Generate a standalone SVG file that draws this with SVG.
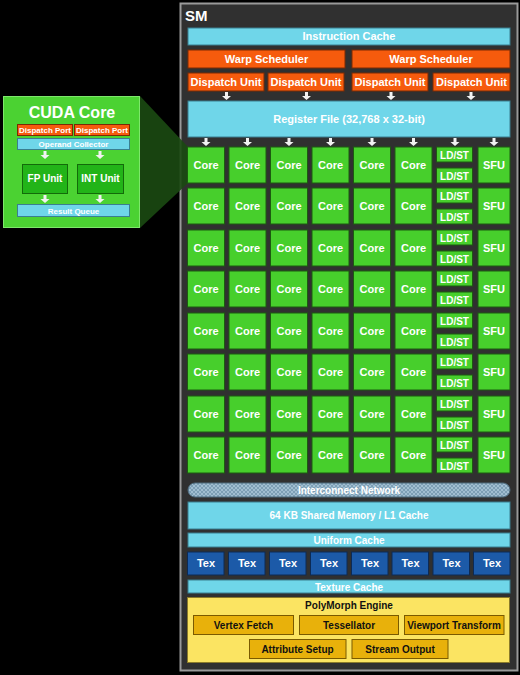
<svg xmlns="http://www.w3.org/2000/svg" width="520" height="675" viewBox="0 0 520 675">
<style>
text{font-family:"Liberation Sans",Arial,sans-serif;font-weight:bold;fill:#fff;text-anchor:middle}
.cy{fill:#6fd6e9;stroke:#3a7f90;stroke-width:1}
.or{fill:#f65b0d;stroke:#7a2a05;stroke-width:1}
.gr{fill:#47cf2c;stroke:#1d5a10;stroke-width:1}
.tx{fill:#1c5aa8;stroke:#0c2a55;stroke-width:1}
.yl{fill:#e8b10b;stroke:#7a5a00;stroke-width:1}
.t11{font-size:11px}
.t10{font-size:10px}
.t9{font-size:8px}
.dk{fill:#111;font-size:10px}
</style>
<defs>
<pattern id="hatch" width="4" height="4" patternUnits="userSpaceOnUse">
<rect width="4" height="4" fill="#7d9fb5"/>
<path d="M0,0 L4,4 M4,0 L0,4" stroke="#a9c6d8" stroke-width="0.8"/>
</pattern>
<path id="arr" d="M-1.5,0 H1.5 V4 H4.5 L0,8 L-4.5,4 H-1.5 Z" fill="#f2f2f2"/>
</defs>
<rect width="520" height="675" fill="#000"/>

<g id="sm">
<rect x="180.5" y="3.5" width="337" height="667" fill="#303030" stroke="#9a9a9a" stroke-width="2"/>
<text x="185" y="21" style="font-size:15px;text-anchor:start">SM</text>
</g>

<g id="zoom-wedge">
<polygon points="140,96 188,147 188,183 140,228" fill="#1b4a12" opacity="0.9"/>
</g>

<g id="cuda-core">
<rect x="3.5" y="96.5" width="136" height="131" fill="#4bd232" stroke="#7de86a" stroke-width="1"/>
<text x="72" y="118" style="font-size:16px">CUDA Core</text>
<rect x="17.5" y="124.5" width="55" height="11" class="or"/>
<text x="45" y="133" class="t9">Dispatch Port</text>
<rect x="74.5" y="124.5" width="55" height="11" class="or"/>
<text x="102" y="133" class="t9">Dispatch Port</text>
<rect x="17.5" y="138.5" width="112" height="11" class="cy"/>
<text x="73.5" y="147" class="t9">Operand Collector</text>
<use href="#arr" x="45" y="151"/>
<use href="#arr" x="100" y="151"/>
<rect x="22.5" y="164.5" width="45" height="29" fill="#22b418" stroke="#136a0a"/>
<text x="45" y="182" class="t10">FP Unit</text>
<rect x="77.5" y="164.5" width="46" height="29" fill="#22b418" stroke="#136a0a"/>
<text x="100.5" y="182" class="t10">INT Unit</text>
<use href="#arr" x="45" y="195"/>
<use href="#arr" x="100" y="195"/>
<rect x="17.5" y="204.5" width="112" height="12" class="cy"/>
<text x="73.5" y="213.5" class="t9">Result Queue</text>
</g>

<g id="instruction-cache">
<rect x="188" y="28" width="322" height="17" class="cy"/>
<text x="349" y="40" class="t11">Instruction Cache</text>
</g>
<g id="warp-scheduler-1">
<rect x="188" y="50" width="157" height="18" class="or"/>
<text x="266.5" y="63" class="t11">Warp Scheduler</text>
</g>
<g id="warp-scheduler-2">
<rect x="352" y="50" width="158" height="18" class="or"/>
<text x="431" y="63" class="t11">Warp Scheduler</text>
</g>
<g id="dispatch-1"><rect x="188" y="73" width="76" height="18" class="or"/><text x="226" y="86" class="t11">Dispatch Unit</text></g>
<g id="dispatch-2"><rect x="268" y="73" width="76" height="18" class="or"/><text x="306" y="86" class="t11">Dispatch Unit</text></g>
<g id="dispatch-3"><rect x="352" y="73" width="76" height="18" class="or"/><text x="390" y="86" class="t11">Dispatch Unit</text></g>
<g id="dispatch-4"><rect x="433" y="73" width="77" height="18" class="or"/><text x="471.5" y="86" class="t11">Dispatch Unit</text></g>

<g id="register-file">
<rect x="188" y="101" width="322" height="36" class="cy"/>
<text x="349" y="123" class="t11">Register File (32,768 x 32-bit)</text>
</g>

<g id="connectors">
<use href="#arr" x="226.5" y="92"/>
<use href="#arr" x="306.5" y="92"/>
<use href="#arr" x="391" y="92"/>
<use href="#arr" x="471" y="92"/>
<use href="#arr" x="206" y="138"/>
<use href="#arr" x="247.5" y="138"/>
<use href="#arr" x="289" y="138"/>
<use href="#arr" x="330.5" y="138"/>
<use href="#arr" x="372" y="138"/>
<use href="#arr" x="413.5" y="138"/>
<use href="#arr" x="455" y="138"/>
<use href="#arr" x="494" y="138"/>
</g>

<g id="cores">
<!-- row 1 y=147 -->
<g id="row1">
<rect x="187.5" y="147" width="37" height="36" class="gr"/><text x="206" y="169" class="t11">Core</text>
<rect x="229" y="147" width="37" height="36" class="gr"/><text x="247.5" y="169" class="t11">Core</text>
<rect x="270.5" y="147" width="37" height="36" class="gr"/><text x="289" y="169" class="t11">Core</text>
<rect x="312" y="147" width="37" height="36" class="gr"/><text x="330.5" y="169" class="t11">Core</text>
<rect x="353.5" y="147" width="37" height="36" class="gr"/><text x="372" y="169" class="t11">Core</text>
<rect x="395" y="147" width="37" height="36" class="gr"/><text x="413.5" y="169" class="t11">Core</text>
<rect x="436.5" y="147" width="36" height="15" class="gr"/><text x="454.5" y="158.5" class="t10">LD/ST</text>
<rect x="436.5" y="168" width="36" height="15" class="gr"/><text x="454.5" y="179.5" class="t10">LD/ST</text>
<rect x="478" y="147" width="32" height="36" class="gr"/><text x="494" y="169" class="t11">SFU</text>
</g>
<g id="row2">
<rect x="187.5" y="188" width="37" height="36" class="gr"/><text x="206" y="210" class="t11">Core</text>
<rect x="229" y="188" width="37" height="36" class="gr"/><text x="247.5" y="210" class="t11">Core</text>
<rect x="270.5" y="188" width="37" height="36" class="gr"/><text x="289" y="210" class="t11">Core</text>
<rect x="312" y="188" width="37" height="36" class="gr"/><text x="330.5" y="210" class="t11">Core</text>
<rect x="353.5" y="188" width="37" height="36" class="gr"/><text x="372" y="210" class="t11">Core</text>
<rect x="395" y="188" width="37" height="36" class="gr"/><text x="413.5" y="210" class="t11">Core</text>
<rect x="436.5" y="188" width="36" height="15" class="gr"/><text x="454.5" y="199.5" class="t10">LD/ST</text>
<rect x="436.5" y="209" width="36" height="15" class="gr"/><text x="454.5" y="220.5" class="t10">LD/ST</text>
<rect x="478" y="188" width="32" height="36" class="gr"/><text x="494" y="210" class="t11">SFU</text>
</g>
<g id="row3">
<rect x="187.5" y="230" width="37" height="36" class="gr"/><text x="206" y="252" class="t11">Core</text>
<rect x="229" y="230" width="37" height="36" class="gr"/><text x="247.5" y="252" class="t11">Core</text>
<rect x="270.5" y="230" width="37" height="36" class="gr"/><text x="289" y="252" class="t11">Core</text>
<rect x="312" y="230" width="37" height="36" class="gr"/><text x="330.5" y="252" class="t11">Core</text>
<rect x="353.5" y="230" width="37" height="36" class="gr"/><text x="372" y="252" class="t11">Core</text>
<rect x="395" y="230" width="37" height="36" class="gr"/><text x="413.5" y="252" class="t11">Core</text>
<rect x="436.5" y="230" width="36" height="15" class="gr"/><text x="454.5" y="241.5" class="t10">LD/ST</text>
<rect x="436.5" y="251" width="36" height="15" class="gr"/><text x="454.5" y="262.5" class="t10">LD/ST</text>
<rect x="478" y="230" width="32" height="36" class="gr"/><text x="494" y="252" class="t11">SFU</text>
</g>
<g id="row4">
<rect x="187.5" y="271" width="37" height="36" class="gr"/><text x="206" y="293" class="t11">Core</text>
<rect x="229" y="271" width="37" height="36" class="gr"/><text x="247.5" y="293" class="t11">Core</text>
<rect x="270.5" y="271" width="37" height="36" class="gr"/><text x="289" y="293" class="t11">Core</text>
<rect x="312" y="271" width="37" height="36" class="gr"/><text x="330.5" y="293" class="t11">Core</text>
<rect x="353.5" y="271" width="37" height="36" class="gr"/><text x="372" y="293" class="t11">Core</text>
<rect x="395" y="271" width="37" height="36" class="gr"/><text x="413.5" y="293" class="t11">Core</text>
<rect x="436.5" y="271" width="36" height="15" class="gr"/><text x="454.5" y="282.5" class="t10">LD/ST</text>
<rect x="436.5" y="292" width="36" height="15" class="gr"/><text x="454.5" y="303.5" class="t10">LD/ST</text>
<rect x="478" y="271" width="32" height="36" class="gr"/><text x="494" y="293" class="t11">SFU</text>
</g>
<g id="row5">
<rect x="187.5" y="313" width="37" height="36" class="gr"/><text x="206" y="335" class="t11">Core</text>
<rect x="229" y="313" width="37" height="36" class="gr"/><text x="247.5" y="335" class="t11">Core</text>
<rect x="270.5" y="313" width="37" height="36" class="gr"/><text x="289" y="335" class="t11">Core</text>
<rect x="312" y="313" width="37" height="36" class="gr"/><text x="330.5" y="335" class="t11">Core</text>
<rect x="353.5" y="313" width="37" height="36" class="gr"/><text x="372" y="335" class="t11">Core</text>
<rect x="395" y="313" width="37" height="36" class="gr"/><text x="413.5" y="335" class="t11">Core</text>
<rect x="436.5" y="313" width="36" height="15" class="gr"/><text x="454.5" y="324.5" class="t10">LD/ST</text>
<rect x="436.5" y="334" width="36" height="15" class="gr"/><text x="454.5" y="345.5" class="t10">LD/ST</text>
<rect x="478" y="313" width="32" height="36" class="gr"/><text x="494" y="335" class="t11">SFU</text>
</g>
<g id="row6">
<rect x="187.5" y="354" width="37" height="36" class="gr"/><text x="206" y="376" class="t11">Core</text>
<rect x="229" y="354" width="37" height="36" class="gr"/><text x="247.5" y="376" class="t11">Core</text>
<rect x="270.5" y="354" width="37" height="36" class="gr"/><text x="289" y="376" class="t11">Core</text>
<rect x="312" y="354" width="37" height="36" class="gr"/><text x="330.5" y="376" class="t11">Core</text>
<rect x="353.5" y="354" width="37" height="36" class="gr"/><text x="372" y="376" class="t11">Core</text>
<rect x="395" y="354" width="37" height="36" class="gr"/><text x="413.5" y="376" class="t11">Core</text>
<rect x="436.5" y="354" width="36" height="15" class="gr"/><text x="454.5" y="365.5" class="t10">LD/ST</text>
<rect x="436.5" y="375" width="36" height="15" class="gr"/><text x="454.5" y="386.5" class="t10">LD/ST</text>
<rect x="478" y="354" width="32" height="36" class="gr"/><text x="494" y="376" class="t11">SFU</text>
</g>
<g id="row7">
<rect x="187.5" y="396" width="37" height="36" class="gr"/><text x="206" y="418" class="t11">Core</text>
<rect x="229" y="396" width="37" height="36" class="gr"/><text x="247.5" y="418" class="t11">Core</text>
<rect x="270.5" y="396" width="37" height="36" class="gr"/><text x="289" y="418" class="t11">Core</text>
<rect x="312" y="396" width="37" height="36" class="gr"/><text x="330.5" y="418" class="t11">Core</text>
<rect x="353.5" y="396" width="37" height="36" class="gr"/><text x="372" y="418" class="t11">Core</text>
<rect x="395" y="396" width="37" height="36" class="gr"/><text x="413.5" y="418" class="t11">Core</text>
<rect x="436.5" y="396" width="36" height="15" class="gr"/><text x="454.5" y="407.5" class="t10">LD/ST</text>
<rect x="436.5" y="417" width="36" height="15" class="gr"/><text x="454.5" y="428.5" class="t10">LD/ST</text>
<rect x="478" y="396" width="32" height="36" class="gr"/><text x="494" y="418" class="t11">SFU</text>
</g>
<g id="row8">
<rect x="187.5" y="437" width="37" height="36" class="gr"/><text x="206" y="459" class="t11">Core</text>
<rect x="229" y="437" width="37" height="36" class="gr"/><text x="247.5" y="459" class="t11">Core</text>
<rect x="270.5" y="437" width="37" height="36" class="gr"/><text x="289" y="459" class="t11">Core</text>
<rect x="312" y="437" width="37" height="36" class="gr"/><text x="330.5" y="459" class="t11">Core</text>
<rect x="353.5" y="437" width="37" height="36" class="gr"/><text x="372" y="459" class="t11">Core</text>
<rect x="395" y="437" width="37" height="36" class="gr"/><text x="413.5" y="459" class="t11">Core</text>
<rect x="436.5" y="437" width="36" height="15" class="gr"/><text x="454.5" y="448.5" class="t10">LD/ST</text>
<rect x="436.5" y="458" width="36" height="15" class="gr"/><text x="454.5" y="469.5" class="t10">LD/ST</text>
<rect x="478" y="437" width="32" height="36" class="gr"/><text x="494" y="459" class="t11">SFU</text>
</g>
</g>

<g id="interconnect">
<rect x="188" y="483" width="322" height="14" rx="7" fill="url(#hatch)" stroke="#4d6a7d"/>
<text x="349" y="493.5" class="t10">Interconnect Network</text>
</g>
<g id="shared-memory">
<rect x="188" y="502" width="322" height="27" class="cy"/>
<text x="349" y="519" class="t10">64 KB Shared Memory / L1 Cache</text>
</g>
<g id="uniform-cache">
<rect x="188" y="533" width="322" height="14" class="cy"/>
<text x="349" y="544" class="t10">Uniform Cache</text>
</g>
<g id="tex-units">
<rect x="187.5" y="552" width="36.5" height="23" class="tx"/><text x="206" y="567" class="t11">Tex</text>
<rect x="228.5" y="552" width="36.5" height="23" class="tx"/><text x="247" y="567" class="t11">Tex</text>
<rect x="269.5" y="552" width="36.5" height="23" class="tx"/><text x="288" y="567" class="t11">Tex</text>
<rect x="310.5" y="552" width="36.5" height="23" class="tx"/><text x="329" y="567" class="t11">Tex</text>
<rect x="351.5" y="552" width="36.5" height="23" class="tx"/><text x="370" y="567" class="t11">Tex</text>
<rect x="392" y="552" width="36.5" height="23" class="tx"/><text x="410.5" y="567" class="t11">Tex</text>
<rect x="433" y="552" width="36.5" height="23" class="tx"/><text x="451.5" y="567" class="t11">Tex</text>
<rect x="473.5" y="552" width="36.5" height="23" class="tx"/><text x="492" y="567" class="t11">Tex</text>
</g>
<g id="texture-cache">
<rect x="188" y="580" width="322" height="13" class="cy"/>
<text x="349" y="590.5" class="t10">Texture Cache</text>
</g>
<g id="polymorph">
<rect x="187.5" y="597.5" width="322" height="65" fill="#fbe462" stroke="#8a7a2a"/>
<text x="349" y="609" class="dk">PolyMorph Engine</text>
<rect x="193.5" y="615.5" width="100" height="19" class="yl"/><text x="243.5" y="628.5" class="dk">Vertex Fetch</text>
<rect x="299.5" y="615.5" width="99" height="19" class="yl"/><text x="349" y="628.5" class="dk">Tessellator</text>
<rect x="404.5" y="615.5" width="99.5" height="19" class="yl"/><text x="454" y="628.5" class="dk">Viewport Transform</text>
<rect x="249.5" y="639.5" width="96.5" height="19" class="yl"/><text x="297.5" y="652.5" class="dk">Attribute Setup</text>
<rect x="352" y="639.5" width="96" height="19" class="yl"/><text x="400" y="652.5" class="dk">Stream Output</text>
</g>
</svg>
